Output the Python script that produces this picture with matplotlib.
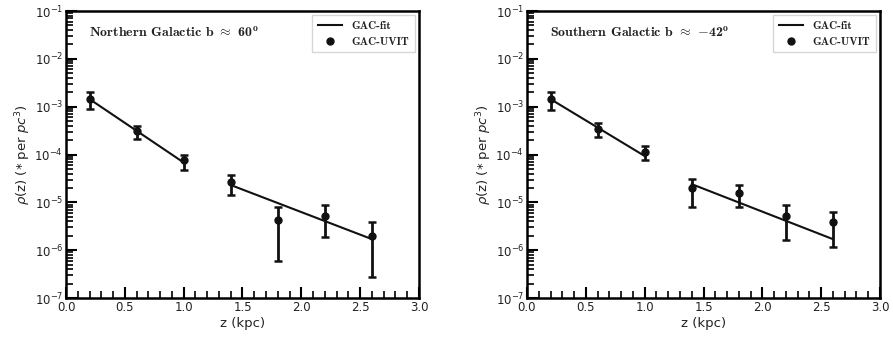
import numpy as np
import matplotlib
matplotlib.use('Agg')
import matplotlib.pyplot as plt
from matplotlib.lines import Line2D
from matplotlib.ticker import LogLocator, MultipleLocator, NullFormatter

plt.rcParams['mathtext.fontset'] = 'dejavusans'

# z bins (kpc)
z = [0.2, 0.6, 1.0, 1.4, 1.8, 2.2, 2.6]

# Northern field densities and asymmetric errors
rho_north = [1.44e-3, 3.1e-4, 7.6e-5, 2.6e-5, 4.3e-6, 5.2e-6, 2.0e-6]
hi_north = [2.0e-3, 3.9e-4, 1.0e-4, 3.8e-5, 8.0e-6, 8.7e-6, 3.9e-6]
lo_north = [9.1e-4, 2.1e-4, 4.7e-5, 1.4e-5, 5.8e-7, 1.9e-6, 2.8e-7]

# Southern field densities and asymmetric errors
rho_south = [1.44e-3, 3.4e-4, 1.15e-4, 1.95e-5, 1.6e-5, 5.2e-6, 3.8e-6]
hi_south = [2.0e-3, 4.6e-4, 1.5e-4, 3.1e-5, 2.3e-5, 8.7e-6, 6.3e-6]
lo_south = [8.5e-4, 2.3e-4, 7.6e-5, 8.1e-6, 8.1e-6, 1.6e-6, 1.15e-6]

# exponential fits (thin disk / thick disk), end points
fit_z_thin = [0.2, 1.0]
fit_z_thick = [1.4, 2.6]
fit_north_thin = [1.44e-3, 6.8e-5]
fit_north_thick = [2.3e-5, 1.7e-6]
fit_south_thin = [1.44e-3, 9.3e-5]
fit_south_thick = [2.4e-5, 1.7e-6]

panels = [
    (r'Northern Galactic b $\approx$ 60$^{\mathbf{o}}$', rho_north, hi_north, lo_north,
     fit_north_thin, fit_north_thick),
    (r'Southern Galactic b $\approx$ $\mathbf{-}$42$^{\mathbf{o}}$', rho_south, hi_south,
     lo_south, fit_south_thin, fit_south_thick),
]

fig = plt.figure(figsize=(8.93, 3.37), dpi=100)
lefts = [66 / 893, 527 / 893]
for left, (title, rho, hi, lo, fthin, fthick) in zip(lefts, panels):
    ax = fig.add_axes([left, 39 / 337, 353 / 893, 287 / 337])
    rho = np.array(rho)
    yerr = [rho - np.array(lo), np.array(hi) - rho]
    ax.plot(fit_z_thin, fthin, color='#111111', lw=1.5)
    ax.plot(fit_z_thick, fthick, color='#111111', lw=1.5)
    ax.errorbar(z, rho, yerr=yerr, fmt='o', color='#111111', ms=5,
                elinewidth=2, capsize=3, capthick=1.8)
    ax.set_yscale('log')
    ax.set_xlim(0, 3.0)
    ax.set_ylim(1e-7, 1e-1)
    ax.xaxis.set_major_locator(MultipleLocator(0.5))
    ax.xaxis.set_minor_locator(MultipleLocator(0.1))
    ax.yaxis.set_major_locator(LogLocator(base=10, numticks=10))
    ax.yaxis.set_minor_locator(LogLocator(base=10, subs=np.arange(2, 10), numticks=20))
    ax.yaxis.set_minor_formatter(NullFormatter())
    ax.tick_params(which='major', direction='in', length=8, width=1.5,
                   labelsize=8.5, labelcolor='#222222', pad=2)
    ax.tick_params(which='minor', direction='in', length=5, width=1.2)
    for s in ax.spines.values():
        s.set_linewidth(1.8)
    ax.set_xlabel('z (kpc)', fontsize=9.5, color='#222222', labelpad=2)
    ax.set_ylabel(r'$\rho$(z) (* per $pc^3$)', fontsize=9.5, color='#222222', labelpad=1)
    ax.text(0.065, 0.925, title, transform=ax.transAxes, fontsize=10,
            family='cmb10', math_fontfamily='cm', color='#222222', va='center')
    handles = [Line2D([], [], color='#111111', lw=1.5),
               Line2D([], [], color='#111111', marker='o', ms=5, ls='none')]
    leg = ax.legend(handles, ['GAC-fit', 'GAC-UVIT'], loc='upper right',
                    fancybox=False, frameon=True, edgecolor='#cccccc',
                    borderaxespad=0.4, borderpad=0.5, labelspacing=0.5,
                    prop={'family': 'cmb10', 'size': 8}, handlelength=2.2)
    leg.get_frame().set_linewidth(1.0)
    for t in leg.get_texts():
        t.set_color('#222222')

fig.savefig('out.png', dpi=100)
